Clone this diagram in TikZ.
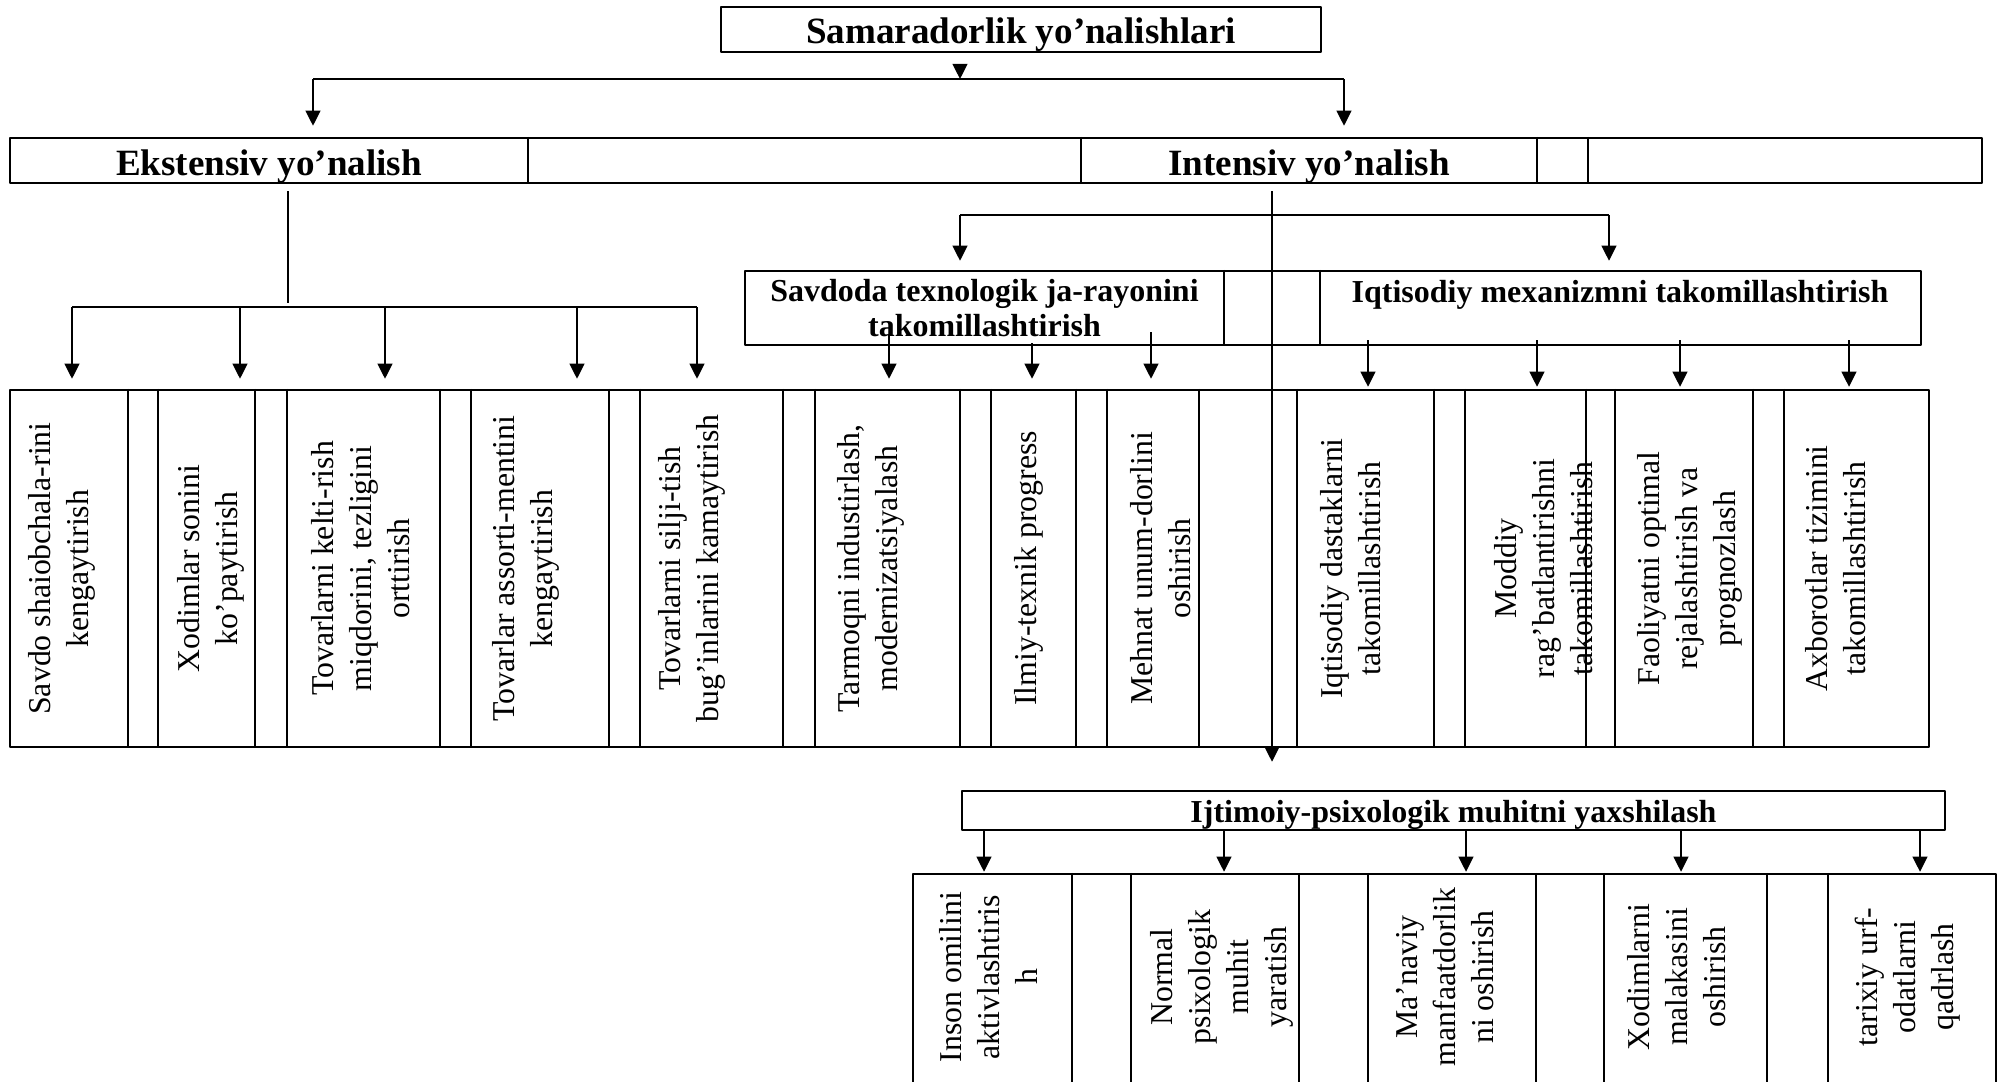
\documentclass[tikz,border=0pt]{standalone}
\usepackage{fontspec}
\setmainfont{Liberation Serif}
\usetikzlibrary{arrows.meta,calc}
\begin{document}
\begin{tikzpicture}[x=0.1mm, y=-0.1mm, line join=round, >={Triangle[length=4.3pt,width=4.2pt]},
	box/.style={draw, line width=0.7pt, inner sep=0pt},
	sep/.style={line width=0.7pt},
	bus/.style={line width=0.55pt},
	arr/.style={->, line width=0.55pt},
	big/.style={anchor=base, font=\bfseries\fontsize{10.55}{12}\selectfont},
	mid/.style={font=\bfseries\fontsize{9.1}{10}\selectfont, align=center},
	vtext/.style={rotate=90, align=center, font=\fontsize{9.05}{10.8}\selectfont}]
	\useasboundingbox (0,0) rectangle (1998,1081);
	% Yo'nalishlar
	\node[box, minimum width=6cm, minimum height=4.5mm] (top) at (1021,29.5) {};
	\node[big] (ttl) at (1021,43) {Samaradorlik yo’nalishlari};
	\node[box, minimum width=19.72cm, minimum height=4.5mm] (row2) at (996,160.5) {};
	\foreach \x in {528,1081,1537,1588} \draw[sep] (\x,0 |- row2.north) -- (\x,0 |- row2.south);
	\node[big] (ekst) at (269,175) {Ekstensiv yo’nalish};
	\node[big] (inte) at (1309,175) {Intensiv yo’nalish};
	\coordinate (tj) at (960,79);
	\coordinate (bl) at (313,79); \coordinate (br) at (1344,79);
	\draw[arr] ($(top.south -| tj)+(0,11)$) -- (tj);
	\draw[bus] (bl) -- (br);
	\draw[arr] (bl) -- ($(bl |- row2.north)+(0,-11)$);
	\draw[arr] (br) -- ($(br |- row2.north)+(0,-11)$);
	% Ikkinchi qator
	\node[box, minimum width=11.76cm, minimum height=7.4mm] (tm) at (1333,308) {};
	\foreach \x in {1224,1320} \draw[sep] (\x,0 |- tm.north) -- (\x,0 |- tm.south);
	\node[mid] (savd) at (984.5,308) {Savdoda texnologik ja-rayonini\\takomillashtirish};
	\node[mid, anchor=base] (iqt) at (1620,302) {Iqtisodiy mexanizmni takomillashtirish};
	\node[box, minimum width=19.19cm, minimum height=3.57cm] (row3) at (969.5,568.5) {};
	\foreach \x in {128,158,255,287,440,471,609,640,783,815,960,991,1076,1107,1199,1297,1434,1465,1586,1615,1753,1784}
		\draw[sep] (\x,0 |- row3.north) -- (\x,0 |- row3.south);
	\node[vtext] (v1) at (62,568.5) {Savdo shaiobchala-rini\\kengaytirish};
	\node[vtext] (v2) at (211,568.5) {Xodimlar sonini\\ko’paytirish};
	\node[vtext] (v3) at (361,568.5) {Tovarlarni kelti-rish\\miqdorini, tezligini\\orttirish};
	\node[vtext] (v4) at (526,568.5) {Tovarlar assorti-mentini\\kengaytirish};
	\node[vtext] (v5) at (692,568.5) {Tovarlarni silji-tish\\bug’inlarini kamaytirish};
	\node[vtext] (v6) at (871,568.5) {Tarmoqni industirlash,\\modernizatsiyalash};
	\node[vtext] (v7) at (1029,568.5) {Ilmiy-texnik progress};
	\node[vtext] (v8) at (1161,568.5) {Mehnat unum-dorlini\\oshirish};
	\node[vtext] (v9) at (1351,568.5) {Iqtisodiy dastaklarni\\takomillashtirish};
	\node[vtext] (v10) at (1544,568.5) {Moddiy\\rag’batlantirishni\\takomillashtirish};
	\node[vtext] (v11) at (1690,568.5) {Faoliyatni optimal\\rejalashtirish va\\prognozlash};
	\node[vtext] (v12) at (1836,568.5) {Axborotlar tizimini\\takomillashtirish};
	% Ekstensiv tarmoqlar
	\coordinate (ek) at (288,191); \coordinate (ekbus) at (288,307);
	\draw[line width=0.4pt] (ek) -- ($(ekbus)+(0,-4)$);
	\draw[bus] (72,0 |- ekbus) -- (697,0 |- ekbus);
	\foreach \x in {72,240,385,577,697} \draw[arr] (\x,0 |- ekbus) -- ($(\x,0 |- row3.north)+(0,-10)$);
	% Intensiv tarmoqlar
	\coordinate (in) at (1272,191); \coordinate (inbus) at (1272,215);
	\draw[bus] (960,0 |- inbus) -- (1609,0 |- inbus);
	\foreach \x in {960,1609} \draw[arr] (\x,0 |- inbus) -- ($(\x,0 |- tm.north)+(0,-9)$);
	\foreach \x/\s in {889/335,1032/343,1151/332} \draw[arr] (\x,\s) -- ($(\x,0 |- row3.north)+(0,-10)$);
	\foreach \x in {1368,1537,1680,1849} \draw[arr] (\x,340) -- ($(\x,0 |- row3.north)+(0,-2)$);
	% Ijtimoiy-psixologik
	\node[box, minimum width=9.83cm, minimum height=3.9mm] (ijt) at (1453.5,810.5) {};
	\node[mid, anchor=base] (ijtt) at (1453.5,822) {Ijtimoiy-psixologik muhitni yaxshilash};
	\draw[arr] (in) -- ($(in |- ijt.north)+(0,-28)$);
	\node[box, minimum width=10.83cm, minimum height=2.12cm] (row4) at (1454.5,980) {};
	\foreach \x in {1072,1131,1299,1368,1536,1604,1767,1828} \draw[sep] (\x,0 |- row4.north) -- (\x,0 |- row4.south);
	\foreach \x in {984,1224,1466,1681,1920} \draw[arr] (\x,0 |- ijt.south) -- ($(\x,0 |- row4.north)+(0,-1)$);
	\node[vtext] (w1) at (988,977) {Inson omilini\\aktivlashtiris\\h};
	\node[vtext] (w2) at (1222,977) {Normal\\psixologik\\muhit\\yaratish};
	\node[vtext] (w3) at (1445,977) {Ma’naviy\\manfaatdorlik\\ni oshirish};
	\node[vtext] (w4) at (1677,977) {Xodimlarni\\malakasini\\oshirish};
	\node[vtext] (w5) at (1908,977) {tarixiy urf-\\odatlarni\\qadrlash};
\end{tikzpicture}
\end{document}
